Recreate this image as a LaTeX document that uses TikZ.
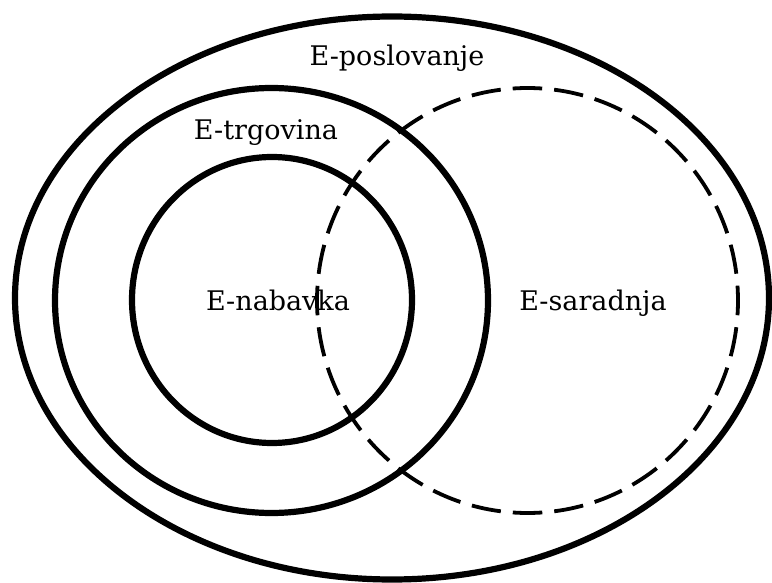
\documentclass[tikz,border=0pt]{standalone}
\usepackage{fontspec}
\newfontfamily\lblfont{DejaVu Serif}
\begin{document}
\begin{tikzpicture}[x=1pt,y=-1pt,
  solidring/.style={draw=black,line width=6.2pt},
  dashring/.style={draw=black,line width=3.8pt,dash pattern=on 29.5pt off 12.03pt,dash phase=14.75pt},
  lbl/.style={anchor=base,inner sep=0pt,font=\lblfont\fontsize{27}{32}\selectfont}]
\useasboundingbox (0,0) rectangle (772,583);
\fill[white] (0,0) rectangle (772,583);
\draw[solidring] (392,298) ellipse [x radius=377,y radius=281.5];
\draw[solidring] (271.5,300.5) ellipse [x radius=216.5,y radius=212.5];
\draw[solidring] (272,300) ellipse [x radius=140,y radius=143];
\draw[dashring] (527.5,300.5) ellipse [x radius=210.5,y radius=212.5];
\node[lbl] (posl) at (397,66) {E-poslovanje};
\node[lbl] (trg) at (266,140) {E-trgovina};
\node[lbl] (nab) at (278,310) {E-nabavka};
\node[lbl] (sar) at (593,310) {E-saradnja};
\end{tikzpicture}
\end{document}
